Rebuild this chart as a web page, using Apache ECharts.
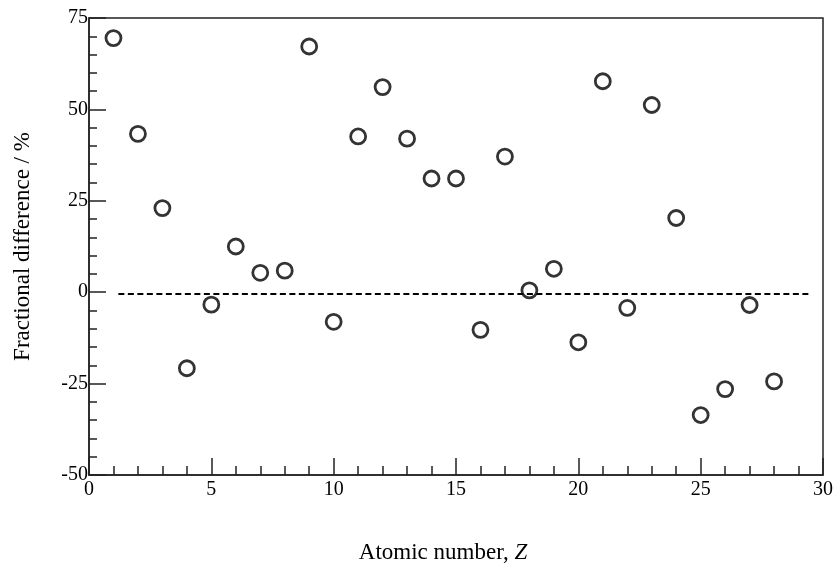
<!DOCTYPE html>
<html>
<head>
<meta charset="utf-8">
<script src="https://cdn.jsdelivr.net/npm/echarts@6/dist/echarts.min.js"></script>
<style>
  html, body { margin: 0; padding: 0; background: #fff; }
  #chart { width: 836px; height: 569px; }
</style>
</head>
<body>
<div id="chart"></div>
<script>
// atomic number Z and fractional difference (%)
var atomicNumbers = [1, 2, 3, 4, 5, 6, 7, 8, 9, 10, 11, 12, 13, 14,
  15, 16, 17, 18, 19, 20, 21, 22, 23, 24, 25, 26, 27, 28];
var fracDiff = [69.5, 43.3, 23.0, -20.8, -3.4, 12.5, 5.3, 5.9, 67.2, -8.1, 42.6, 56.1, 42.0, 31.1,
  31.1, -10.3, 37.1, 0.5, 6.4, -13.7, 57.7, -4.3, 51.2, 20.3, -33.6, -26.5, -3.5, -24.4];

// dashed reference line
var refX = [1.2, 29.5];
var refY = [-0.5, -0.5];

var serif = '"Liberation Serif", "Times New Roman", serif';

var chartDom = document.getElementById('chart');
var myChart = echarts.init(chartDom);
var option;

var points = atomicNumbers.map(function (z, i) { return [z, fracDiff[i]]; });
var refLine = refX.map(function (x, i) { return [x, refY[i]]; });

option = {
  animation: false,
  backgroundColor: '#fff',
  grid: {
    left: 89,
    right: 9,
    top: 18,
    bottom: 88,
    show: true,
    borderColor: '#222',
    borderWidth: 1.5
  },
  xAxis: {
    type: 'value',
    min: 0,
    max: 30,
    interval: 5,
    name: '{n|Atomic number, }{z|Z}',
    nameLocation: 'middle',
    nameGap: 66,
    nameTextStyle: {
      padding: [0, 26, 0, 0],
      rich: {
        n: { fontFamily: serif, fontSize: 23, color: '#000' },
        z: { fontFamily: serif, fontSize: 23, color: '#000', fontStyle: 'italic' }
      }
    },
    axisLine: { show: true, onZero: false, lineStyle: { color: '#222', width: 1.5 } },
    axisTick: { show: true, inside: true, length: 17, lineStyle: { color: '#222', width: 1.5 } },
    minorTick: { show: true, splitNumber: 5, length: 9, lineStyle: { color: '#222', width: 1.5 } },
    splitLine: { show: false },
    axisLabel: { fontFamily: serif, fontSize: 20, color: '#000', margin: 5 }
  },
  yAxis: {
    type: 'value',
    min: -50,
    max: 75,
    interval: 25,
    name: 'Fractional difference / %',
    nameLocation: 'middle',
    nameGap: 55,
    nameTextStyle: { fontFamily: serif, fontSize: 23, color: '#000' },
    axisLine: { show: true, onZero: false, lineStyle: { color: '#222', width: 1.5 } },
    axisTick: { show: true, inside: true, length: 17, lineStyle: { color: '#222', width: 1.5 } },
    minorTick: { show: true, splitNumber: 5, length: 8, lineStyle: { color: '#222', width: 1.5 } },
    splitLine: { show: false },
    axisLabel: { fontFamily: serif, fontSize: 20, color: '#000', margin: 1 }
  },
  series: [
    {
      type: 'line',
      data: refLine,
      symbol: 'none',
      silent: true,
      lineStyle: { color: '#000', width: 2, type: [6, 3.5] }
    },
    {
      type: 'scatter',
      data: points,
      symbol: 'circle',
      symbolSize: 15,
      itemStyle: { color: '#fff', borderColor: '#000', borderWidth: 2.8 }
    }
  ]
};

option && myChart.setOption(option);
</script>
</body>
</html>
